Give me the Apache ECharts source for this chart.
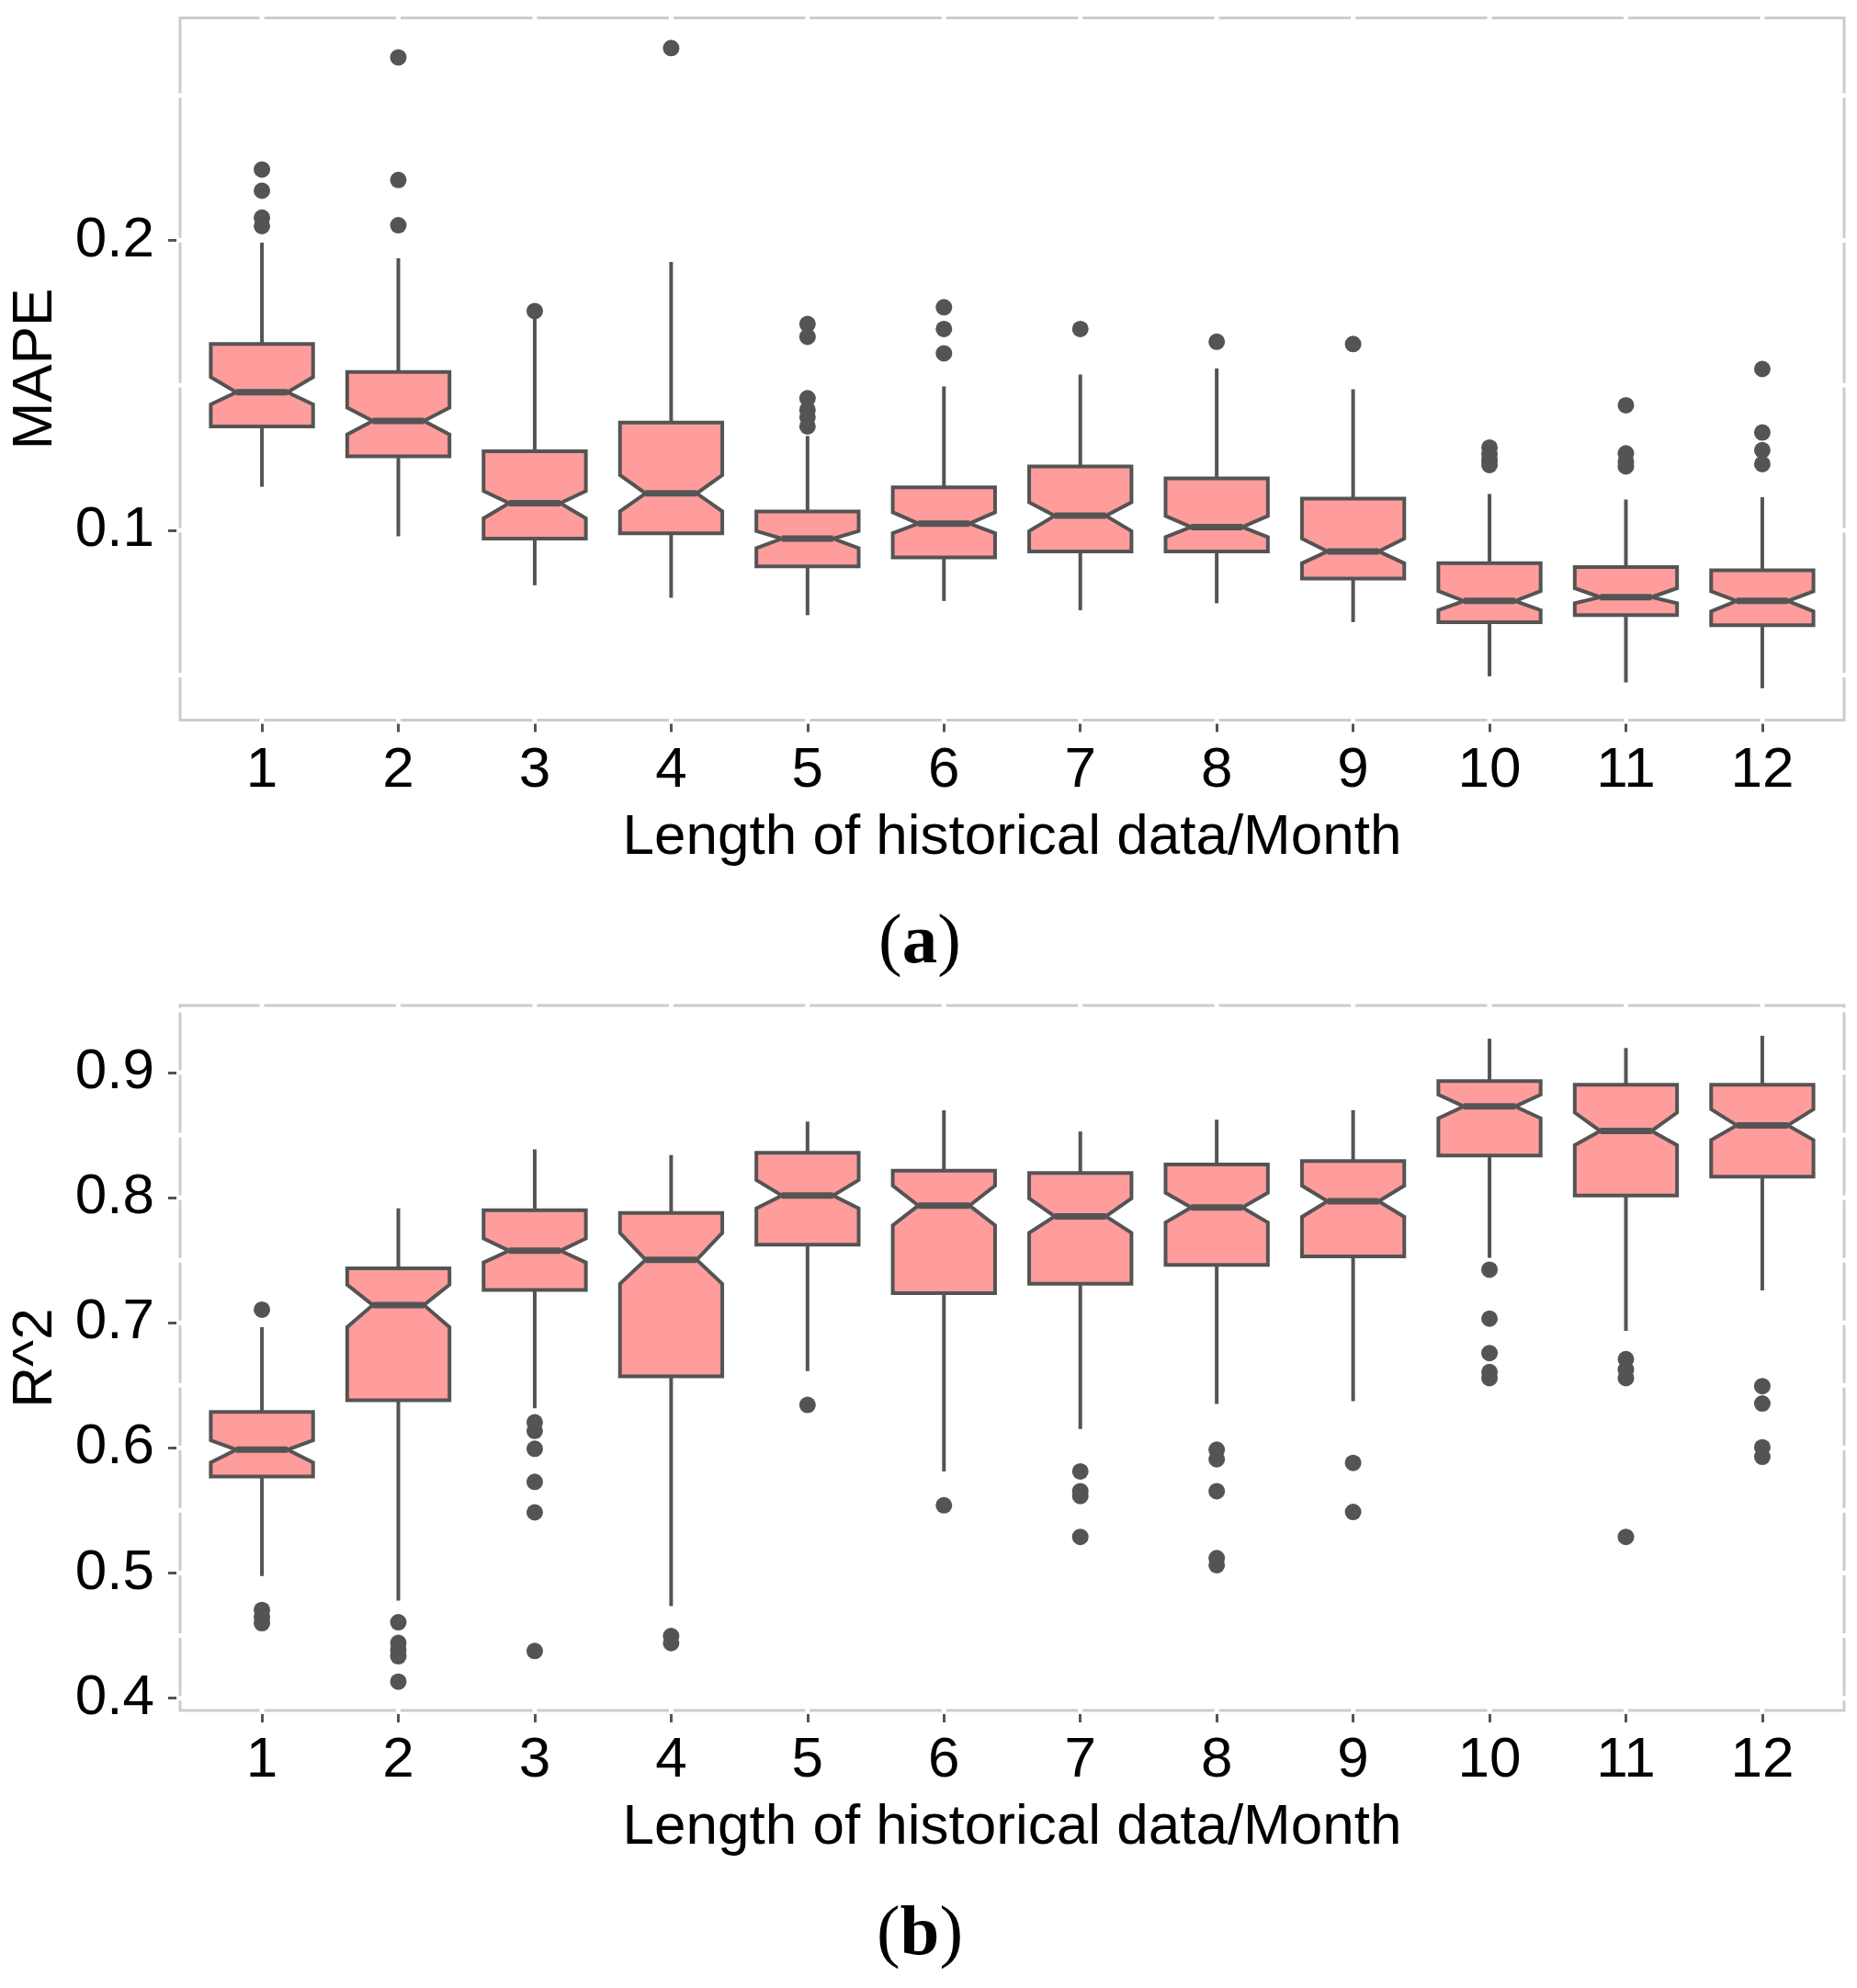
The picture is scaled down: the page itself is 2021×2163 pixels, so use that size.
<!DOCTYPE html>
<html>
<head>
<meta charset="utf-8">
<script src="https://cdn.jsdelivr.net/npm/echarts@6/dist/echarts.min.js"></script>
<style>
html,body{margin:0;padding:0;background:#fff;}
#chart{width:2021px;height:2163px;}
</style>
</head>
<body>
<div id="chart"></div>
<script>
// ---- categories ----
const categories = [1, 2, 3, 4, 5, 6, 7, 8, 9, 10, 11, 12];

// ---- panel (a): MAPE ----
const mapeWhiskerLow  = [0.1150, 0.0979, 0.0810, 0.0767, 0.0707, 0.0756, 0.0724, 0.0748, 0.0683, 0.0496, 0.0475, 0.0455];
const mapeQ1          = [0.1358, 0.1255, 0.0971, 0.0989, 0.0875, 0.0906, 0.0927, 0.0927, 0.0833, 0.0683, 0.0707, 0.0672];
const mapeNotchLow    = [0.1434, 0.1330, 0.1041, 0.1065, 0.0938, 0.0990, 0.0997, 0.0976, 0.0886, 0.0724, 0.0748, 0.0720];
const mapeMedian      = [0.1476, 0.1377, 0.1093, 0.1127, 0.0971, 0.1023, 0.1050, 0.1011, 0.0927, 0.0756, 0.0769, 0.0756];
const mapeNotchHigh   = [0.1528, 0.1423, 0.1135, 0.1190, 0.0997, 0.1062, 0.1096, 0.1049, 0.0971, 0.0790, 0.0800, 0.0789];
const mapeQ3          = [0.1642, 0.1546, 0.1272, 0.1371, 0.1065, 0.1148, 0.1220, 0.1179, 0.1109, 0.0886, 0.0873, 0.0862];
const mapeWhiskerHigh = [0.1992, 0.1938, 0.1732, 0.1925, 0.1325, 0.1496, 0.1537, 0.1558, 0.1486, 0.1125, 0.1106, 0.1114];
const mapeOutliers = [
  [0.2244, 0.2171, 0.2078, 0.2049],
  [0.2631, 0.2208, 0.2052],
  [0.1756],
  [0.2663],
  [0.1711, 0.1667, 0.1455, 0.1415, 0.1390, 0.1358],
  [0.1769, 0.1694, 0.1610],
  [0.1694],
  [0.1650],
  [0.1642],
  [0.1285, 0.1262, 0.1240, 0.1225],
  [0.1431, 0.1265, 0.1236, 0.1220],
  [0.1556, 0.1337, 0.1276, 0.1228]
];
const mapeTicks = [0.1, 0.2];
const mapeGridLines = [0.05, 0.10, 0.15, 0.20, 0.25];

// ---- panel (b): R^2 ----
const r2WhiskerLow  = [0.4976, 0.4780, 0.6317, 0.4735, 0.6615, 0.5812, 0.6152, 0.6351, 0.6374, 0.7519, 0.6935, 0.7259];
const r2Q1          = [0.5771, 0.6381, 0.7263, 0.6573, 0.7625, 0.7237, 0.7312, 0.7463, 0.7531, 0.8337, 0.8017, 0.8167];
const r2NotchLow    = [0.5884, 0.6965, 0.7482, 0.7312, 0.7915, 0.7779, 0.7719, 0.7802, 0.7847, 0.8635, 0.8420, 0.8461];
const r2Median      = [0.5986, 0.7142, 0.7576, 0.7504, 0.8017, 0.7937, 0.7851, 0.7922, 0.7971, 0.8729, 0.8533, 0.8578];
const r2NotchHigh   = [0.6061, 0.7304, 0.7674, 0.7719, 0.8141, 0.8096, 0.7994, 0.8039, 0.8096, 0.8823, 0.8680, 0.8706];
const r2Q3          = [0.6287, 0.7436, 0.7900, 0.7877, 0.8359, 0.8216, 0.8197, 0.8265, 0.8292, 0.8932, 0.8902, 0.8902];
const r2WhiskerHigh = [0.6965, 0.7915, 0.8386, 0.8341, 0.8608, 0.8699, 0.8529, 0.8623, 0.8699, 0.9271, 0.9196, 0.9294];
const r2Outliers = [
  [0.7105, 0.4705, 0.4648, 0.4599],
  [0.4607, 0.4441, 0.4384, 0.4335, 0.4132],
  [0.6204, 0.6136, 0.5993, 0.5729, 0.5485, 0.4377],
  [0.4497, 0.4440],
  [0.6344],
  [0.5541],
  [0.5812, 0.5654, 0.5616, 0.5289],
  [0.5986, 0.5910, 0.5654, 0.5119, 0.5063],
  [0.5880, 0.5488],
  [0.7425, 0.7033, 0.6758, 0.6607, 0.6558],
  [0.6709, 0.6626, 0.6558, 0.5289],
  [0.6494, 0.6355, 0.6005, 0.5929]
];
const r2Ticks = [0.4, 0.5, 0.6, 0.7, 0.8, 0.9];
const r2GridLines = [0.40, 0.45, 0.50, 0.55, 0.60, 0.65, 0.70, 0.75, 0.80, 0.85, 0.90, 0.95];

const xTitle = 'Length of historical data/Month';
const panelLabels = ['a', 'b'];

// ---- style constants ----
const FILL = '#FF9C9C';
const LINE = '#545454';
const BORDER = '#cccccc';
const SANS = 'Liberation Sans, Arial, sans-serif';

function boxData(wl, q1, nl, med, nh, q3, wh) {
  return categories.map((c, i) => [c, wl[i], q1[i], nl[i], med[i], nh[i], q3[i], wh[i]]);
}
function outlierData(outs) {
  const d = [];
  outs.forEach((arr, i) => arr.forEach(v => d.push([categories[i], v])));
  return d;
}

function renderBox(params, api) {
  const x = api.value(0);
  const y = v => api.coord([x, v])[1];
  const cx = api.coord([x, api.value(4)])[0];
  const hw = api.size([0.75, 0])[0] / 2;
  const yWL = y(api.value(1)), yQ1 = y(api.value(2)), yNL = y(api.value(3));
  const yMed = y(api.value(4)), yNH = y(api.value(5)), yQ3 = y(api.value(6)), yWH = y(api.value(7));
  const ls = { stroke: LINE, lineWidth: 4, fill: null };
  return {
    type: 'group',
    children: [
      { type: 'line', shape: { x1: cx, y1: yQ3, x2: cx, y2: yWH }, style: ls },
      { type: 'line', shape: { x1: cx, y1: yQ1, x2: cx, y2: yWL }, style: ls },
      { type: 'polygon', shape: { points: [
          [cx - hw, yQ3], [cx + hw, yQ3], [cx + hw, yNH], [cx + hw / 2, yMed], [cx + hw, yNL],
          [cx + hw, yQ1], [cx - hw, yQ1], [cx - hw, yNL], [cx - hw / 2, yMed], [cx - hw, yNH]
        ] }, style: { fill: FILL, stroke: LINE, lineWidth: 4, lineJoin: 'miter' } },
      { type: 'line', shape: { x1: cx - hw / 2, y1: yMed, x2: cx + hw / 2, y2: yMed }, style: { stroke: LINE, lineWidth: 7 } }
    ]
  };
}

// white grid-line breaks in the light panel border (ggplot look)
function renderGapsH(params, api) {
  const v = api.value(0);
  const ext = api.getWidth ? null : null;
  const cs = params.coordSys;
  const yy = api.coord([0.4, v])[1];
  return { type: 'group', children: [
    { type: 'rect', shape: { x: cs.x - 4, y: yy - 2.5, width: 8, height: 5 }, style: { fill: '#fff' } },
    { type: 'rect', shape: { x: cs.x + cs.width - 4, y: yy - 2.5, width: 8, height: 5 }, style: { fill: '#fff' } }
  ] };
}
function renderGapsV(params, api) {
  const c = api.value(0);
  const cs = params.coordSys;
  const xx = api.coord([c, 0.5])[0];
  return { type: 'group', children: [
    { type: 'rect', shape: { x: xx - 2.5, y: cs.y - 4, width: 5, height: 8 }, style: { fill: '#fff' } },
    { type: 'rect', shape: { x: xx - 2.5, y: cs.y + cs.height - 4, width: 5, height: 8 }, style: { fill: '#fff' } }
  ] };
}

function xAxisCfg(gridIndex, nameGap) {
  return {
    type: 'value', gridIndex, min: 0.4, max: 12.6,
    name: xTitle, nameLocation: 'middle', nameGap,
    nameTextStyle: { fontFamily: SANS, fontSize: 62, color: '#000', verticalAlign: 'middle' },
    axisLine: { show: false },
    axisTick: { show: true, length: 13, customValues: categories, lineStyle: { color: LINE, width: 3 } },
    axisLabel: { customValues: categories, fontFamily: SANS, fontSize: 62, color: '#000', margin: 55, verticalAlign: 'middle' },
    splitLine: { show: false }
  };
}
function yAxisCfg(gridIndex, name, min, max, ticks) {
  return {
    type: 'value', gridIndex, min, max,
    name, nameLocation: 'middle', nameGap: 157,
    nameTextStyle: { fontFamily: SANS, fontSize: 62, color: '#000', verticalAlign: 'middle', align: 'center' },
    axisLine: { show: false },
    axisTick: { show: true, length: 13, customValues: ticks, lineStyle: { color: LINE, width: 3 } },
    axisLabel: { customValues: ticks, fontFamily: SANS, fontSize: 62, color: '#000', margin: 28,
      formatter: v => (+v).toFixed(1) },
    splitLine: { show: false }
  };
}
function panelLabel(letter, y) {
  return { type: 'text', x: 1001, y, style: { text: '{p|(}{b|' + letter + '}{p|)}', align: 'center', verticalAlign: 'middle',
    rich: { p: { fontFamily: 'Liberation Serif, serif', fontSize: 77, fill: '#000' },
            b: { fontFamily: 'Liberation Serif, serif', fontSize: 77, fontWeight: 'bold', fill: '#000' } } } };
}

const chart = echarts.init(document.getElementById('chart'), null, { renderer: 'canvas' });
chart.setOption({
  animation: false,
  backgroundColor: '#fff',
  grid: [
    { left: 191, top: 19.5, width: 1816, height: 764, show: true, borderColor: BORDER, borderWidth: 3, backgroundColor: '#fff' },
    { left: 191, top: 1094, width: 1816, height: 767, show: true, borderColor: BORDER, borderWidth: 3, backgroundColor: '#fff' }
  ],
  xAxis: [xAxisCfg(0, 128), xAxisCfg(1, 128)],
  yAxis: [
    yAxisCfg(0, 'MAPE', 0.0345, 0.2767, mapeTicks),
    yAxisCfg(1, 'R^2', 0.3902, 0.9536, r2Ticks)
  ],
  graphic: [panelLabel(panelLabels[0], 1027), panelLabel(panelLabels[1], 2106)],
  series: [
    { type: 'custom', xAxisIndex: 0, yAxisIndex: 0, renderItem: renderGapsH, clip: false, silent: true,
      encode: { y: 0 }, data: mapeGridLines.map(v => [v]) },
    { type: 'custom', xAxisIndex: 0, yAxisIndex: 0, renderItem: renderGapsV, clip: false, silent: true,
      encode: { x: 0 }, data: categories.map(c => [c]) },
    { type: 'custom', xAxisIndex: 1, yAxisIndex: 1, renderItem: renderGapsH, clip: false, silent: true,
      encode: { y: 0 }, data: r2GridLines.map(v => [v]) },
    { type: 'custom', xAxisIndex: 1, yAxisIndex: 1, renderItem: renderGapsV, clip: false, silent: true,
      encode: { x: 0 }, data: categories.map(c => [c]) },
    { type: 'custom', name: 'MAPE', xAxisIndex: 0, yAxisIndex: 0, renderItem: renderBox,
      encode: { x: 0, y: [1, 2, 3, 4, 5, 6, 7] },
      data: boxData(mapeWhiskerLow, mapeQ1, mapeNotchLow, mapeMedian, mapeNotchHigh, mapeQ3, mapeWhiskerHigh) },
    { type: 'scatter', name: 'MAPE outliers', xAxisIndex: 0, yAxisIndex: 0, symbolSize: 18,
      itemStyle: { color: LINE, opacity: 1 }, data: outlierData(mapeOutliers) },
    { type: 'custom', name: 'R^2', xAxisIndex: 1, yAxisIndex: 1, renderItem: renderBox,
      encode: { x: 0, y: [1, 2, 3, 4, 5, 6, 7] },
      data: boxData(r2WhiskerLow, r2Q1, r2NotchLow, r2Median, r2NotchHigh, r2Q3, r2WhiskerHigh) },
    { type: 'scatter', name: 'R^2 outliers', xAxisIndex: 1, yAxisIndex: 1, symbolSize: 18,
      itemStyle: { color: LINE, opacity: 1 }, data: outlierData(r2Outliers) }
  ]
});
</script>
</body>
</html>
